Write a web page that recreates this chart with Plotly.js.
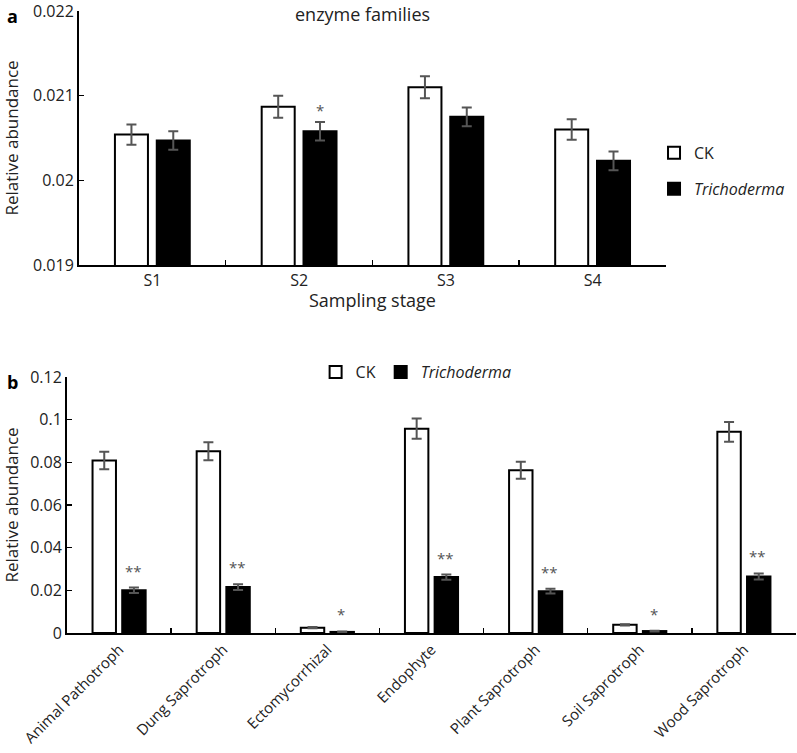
<!DOCTYPE html>
<html>
<head>
<meta charset="utf-8">
<script src="https://cdn.plot.ly/plotly-3.0.1.min.js"></script>
<style>html,body{margin:0;padding:0;background:#fff;} #chart{width:797px;height:753px;}</style>
</head>
<body>
<div id="chart"></div>
<script>
// ---- Panel a: enzyme families ----
var stages = ['S1', 'S2', 'S3', 'S4'];
var ckEnzyme = [0.02054, 0.02087, 0.02110, 0.02060];
var ckEnzymeErr = [0.00012, 0.00013, 0.00013, 0.00012];
var trEnzyme = [0.02047, 0.02058, 0.02075, 0.02023];
var trEnzymeErr = [0.00011, 0.00011, 0.00011, 0.00011];
var enzymeSig = ['', '*', '', ''];
var enzymeTicks = [0.019, 0.020, 0.021, 0.022];
var enzymeTickText = ['0.019', '0.02', '0.021', '0.022'];

// ---- Panel b: fungal guilds ----
var guilds = ['Animal Pathotroph', 'Dung Saprotroph', 'Ectomycorrhizal', 'Endophyte', 'Plant Saprotroph', 'Soil Saprotroph', 'Wood Saprotroph'];
var ckGuild = [0.0809, 0.0852, 0.0025, 0.0958, 0.0763, 0.0038, 0.0943];
var ckGuildErr = [0.0041, 0.0042, 0.0003, 0.0047, 0.0040, 0.0003, 0.0046];
var trGuild = [0.0200, 0.0215, 0.0005, 0.0262, 0.0196, 0.0009, 0.0265];
var trGuildErr = [0.0013, 0.0013, 0.0002, 0.0012, 0.0011, 0.0002, 0.0014];
var guildSig = ['**', '**', '*', '**', '**', '*', '**'];
var guildTicks = [0, 0.02, 0.04, 0.06, 0.08, 0.1, 0.12];
var guildTickText = ['0', '0.02', '0.04', '0.06', '0.08', '0.1', '0.12'];

var FONT = '"Open Sans", "Liberation Sans", sans-serif';
var TXT = '#222';
var ERRC = '#555';
var BW = 0.225;

function barTrace(x, y, err, name, fill, xa, ya, legend, group) {
  return {
    type: 'bar', x: x, y: y, name: name,
    xaxis: xa, yaxis: ya, legend: legend, legendgroup: group,
    width: BW, offset: fill === '#000' ? 0.03 : -0.255,
    marker: {color: fill, line: {color: '#000', width: 2}},
    error_y: {type: 'data', array: err, visible: true, color: ERRC, thickness: 2, width: 5}
  };
}

var data = [
  barTrace(stages, ckEnzyme, ckEnzymeErr, 'CK', '#fff', 'x', 'y', 'legend', 'g1'),
  barTrace(stages, trEnzyme, trEnzymeErr, '<i>Trichoderma</i>', '#000', 'x', 'y', 'legend', 'g2'),
  barTrace(guilds, ckGuild, ckGuildErr, 'CK', '#fff', 'x2', 'y2', 'legend2', 'h1'),
  barTrace(guilds, trGuild, trGuildErr, '<i>Trichoderma</i>', '#000', 'x2', 'y2', 'legend2', 'h2')
];

var annotations = [];
enzymeSig.forEach(function (s, i) {
  if (!s) return;
  annotations.push({xref: 'x', yref: 'y', x: stages[i], y: trEnzyme[i] + trEnzymeErr[i],
    text: s, showarrow: false, yanchor: 'bottom', xshift: 21, yshift: 0,
    font: {family: FONT, size: 15, color: ERRC}});
});
guildSig.forEach(function (s, i) {
  if (!s) return;
  annotations.push({xref: 'x2', yref: 'y2', x: guilds[i], y: trGuild[i] + trGuildErr[i],
    text: s, showarrow: false, yanchor: 'bottom', xshift: 14, yshift: 5,
    font: {family: FONT, size: 15, color: ERRC}});
});
annotations.push({xref: 'paper', yref: 'paper', x: 0.006, y: 0.997, xanchor: 'left', yanchor: 'top',
  text: '<b>a</b>', showarrow: false, font: {family: FONT, size: 18, color: '#000'}});
annotations.push({xref: 'paper', yref: 'paper', x: 0.006, y: 0.511, xanchor: 'left', yanchor: 'top',
  text: '<b>b</b>', showarrow: false, font: {family: FONT, size: 18, color: '#000'}});
annotations.push({xref: 'paper', yref: 'paper', x: 0.455, y: 1.0, xanchor: 'center', yanchor: 'top',
  text: 'enzyme families', showarrow: false, font: {family: FONT, size: 18, color: TXT}});

var axisCommon = {showline: true, linecolor: '#000', linewidth: 2, showgrid: false, zeroline: false,
  tickfont: {family: FONT, size: 16, color: TXT}, ticks: 'inside', ticklen: 5, tickwidth: 1.5, tickcolor: '#000',
  ticklabeloverflow: 'allow'};

var layout = {
  width: 797, height: 753,
  margin: {l: 0, r: 0, t: 0, b: 0},
  paper_bgcolor: '#fff', plot_bgcolor: '#fff',
  font: {family: FONT, color: TXT},
  barmode: 'group',
  xaxis: Object.assign({}, axisCommon, {domain: [0.0991, 0.8356], anchor: 'y', tickson: 'boundaries',
    title: {text: 'Sampling stage', font: {family: FONT, size: 18, color: TXT}, standoff: 4}}),
  yaxis: Object.assign({}, axisCommon, {domain: [0.6481, 0.9854], anchor: 'x', range: [0.019, 0.0220001],
    tickmode: 'array', tickvals: enzymeTicks, ticktext: enzymeTickText,
    title: {text: 'Relative abundance', font: {family: FONT, size: 17, color: TXT}, standoff: 14}}),
  xaxis2: Object.assign({}, axisCommon, {domain: [0.0841, 0.9987], anchor: 'y2', tickson: 'boundaries', tickangle: -45,
    tickfont: {family: FONT, size: 15, color: TXT}}),
  yaxis2: Object.assign({}, axisCommon, {domain: [0.1594, 0.4993], anchor: 'x2', range: [0, 0.12],
    tickmode: 'array', tickvals: guildTicks, ticktext: guildTickText,
    title: {text: 'Relative abundance', font: {family: FONT, size: 17, color: TXT}, standoff: 14}}),
  legend: {x: 0.8206, y: 0.773, xanchor: 'left', yanchor: 'middle', orientation: 'v',
    traceorder: 'grouped', tracegroupgap: 12, bgcolor: 'rgba(0,0,0,0)',
    font: {family: FONT, size: 16, color: TXT}},
  legend2: {x: 0.396, y: 0.506, xanchor: 'left', yanchor: 'middle', orientation: 'h', bgcolor: 'rgba(0,0,0,0)',
    font: {family: FONT, size: 16, color: TXT}},
  annotations: annotations
};

Plotly.newPlot('chart', data, layout, {displayModeBar: false, staticPlot: true});
</script>
</body>
</html>
